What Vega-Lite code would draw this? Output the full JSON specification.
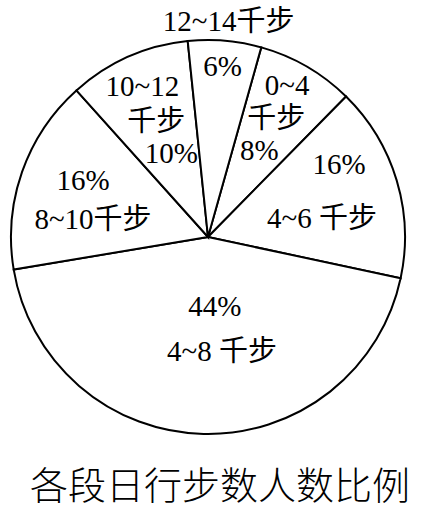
{
  "$schema": "https://vega.github.io/schema/vega-lite/v6.json",
  "width": 416,
  "height": 474,
  "autosize": "none",
  "padding": {"left": 0, "top": 0, "right": 9, "bottom": 40},
  "background": "white",
  "title": {
    "text": "各段日行步数人数比例",
    "orient": "bottom",
    "offset": -5,
    "dx": 12,
    "font": "'Noto Sans CJK SC'",
    "fontSize": 38,
    "fontWeight": 300,
    "color": "black"
  },
  "config": {
    "view": {"stroke": null},
    "text": {"font": "'Liberation Serif', 'Times New Roman', serif, 'Noto Sans CJK SC'", "fontSize": 29, "baseline": "middle", "align": "center", "color": "black"}
  },
  "data": {
    "values": [
      {"name": "0~4千步", "pct": 8, "l1": "0~4", "l2": "千步", "l3": "8%", "order": 1},
      {"name": "4~6千步", "pct": 16, "l1": "16%", "l2": "4~6 千步", "l3": "", "order": 2},
      {"name": "4~8千步", "pct": 44, "l1": "44%", "l2": "4~8 千步", "l3": "", "order": 3},
      {"name": "8~10千步", "pct": 16, "l1": "16%", "l2": "8~10千步", "l3": "", "order": 4},
      {"name": "10~12千步", "pct": 10, "l1": "10~12", "l2": "千步", "l3": "10%", "order": 5},
      {"name": "12~14千步", "pct": 6, "l1": "12~14千步", "l2": "6%", "l3": "", "order": 6}
    ]
  },
  "encoding": {
    "theta": {"field": "pct", "type": "quantitative", "stack": true, "scale": {"range": [0.274, 6.557]}},
    "order": {"field": "order", "type": "quantitative"}
  },
  "layer": [
    {"mark": {"type": "arc", "outerRadius": 197, "fill": "white", "stroke": "black", "strokeWidth": 2}},
    {"mark": {"type": "text", "radius": 140, "dx": 9, "dy": -30}, "encoding": {"text": {"condition": {"test": "datum.order == 1", "field": "l1"}, "value": ""}}},
    {"mark": {"type": "text", "radius": 140, "dx": -2, "dy": 3}, "encoding": {"text": {"condition": {"test": "datum.order == 1", "field": "l2"}, "value": ""}}},
    {"mark": {"type": "text", "radius": 140, "dx": -19, "dy": 35}, "encoding": {"text": {"condition": {"test": "datum.order == 1", "field": "l3"}, "value": ""}}},
    {"mark": {"type": "text", "radius": 140, "dx": -3, "dy": -32}, "encoding": {"text": {"condition": {"test": "datum.order == 2", "field": "l1"}, "value": ""}}},
    {"mark": {"type": "text", "radius": 140, "dx": -20, "dy": 22}, "encoding": {"text": {"condition": {"test": "datum.order == 2", "field": "l2"}, "value": ""}}},
    {"mark": {"type": "text", "radius": 91, "dx": 9, "dy": -21}, "encoding": {"text": {"condition": {"test": "datum.order == 3", "field": "l1"}, "value": ""}}},
    {"mark": {"type": "text", "radius": 91, "dx": 16, "dy": 24}, "encoding": {"text": {"condition": {"test": "datum.order == 3", "field": "l2"}, "value": ""}}},
    {"mark": {"type": "text", "radius": 125, "dx": -7, "dy": -15}, "encoding": {"text": {"condition": {"test": "datum.order == 4", "field": "l1"}, "value": ""}}},
    {"mark": {"type": "text", "radius": 125, "dx": 3, "dy": 24}, "encoding": {"text": {"condition": {"test": "datum.order == 4", "field": "l2"}, "value": ""}}},
    {"mark": {"type": "text", "radius": 135, "dx": -11, "dy": -27}, "encoding": {"text": {"condition": {"test": "datum.order == 5", "field": "l1"}, "value": ""}}},
    {"mark": {"type": "text", "radius": 135, "dx": 3, "dy": 8}, "encoding": {"text": {"condition": {"test": "datum.order == 5", "field": "l2"}, "value": ""}}},
    {"mark": {"type": "text", "radius": 135, "dx": 18, "dy": 40}, "encoding": {"text": {"condition": {"test": "datum.order == 5", "field": "l3"}, "value": ""}}},
    {"mark": {"type": "text", "radius": 219, "dx": 2, "dy": 3}, "encoding": {"text": {"condition": {"test": "datum.order == 6", "field": "l1"}, "value": ""}}},
    {"mark": {"type": "text", "radius": 170, "dx": 0, "dy": -1}, "encoding": {"text": {"condition": {"test": "datum.order == 6", "field": "l2"}, "value": ""}}}
  ]
}
